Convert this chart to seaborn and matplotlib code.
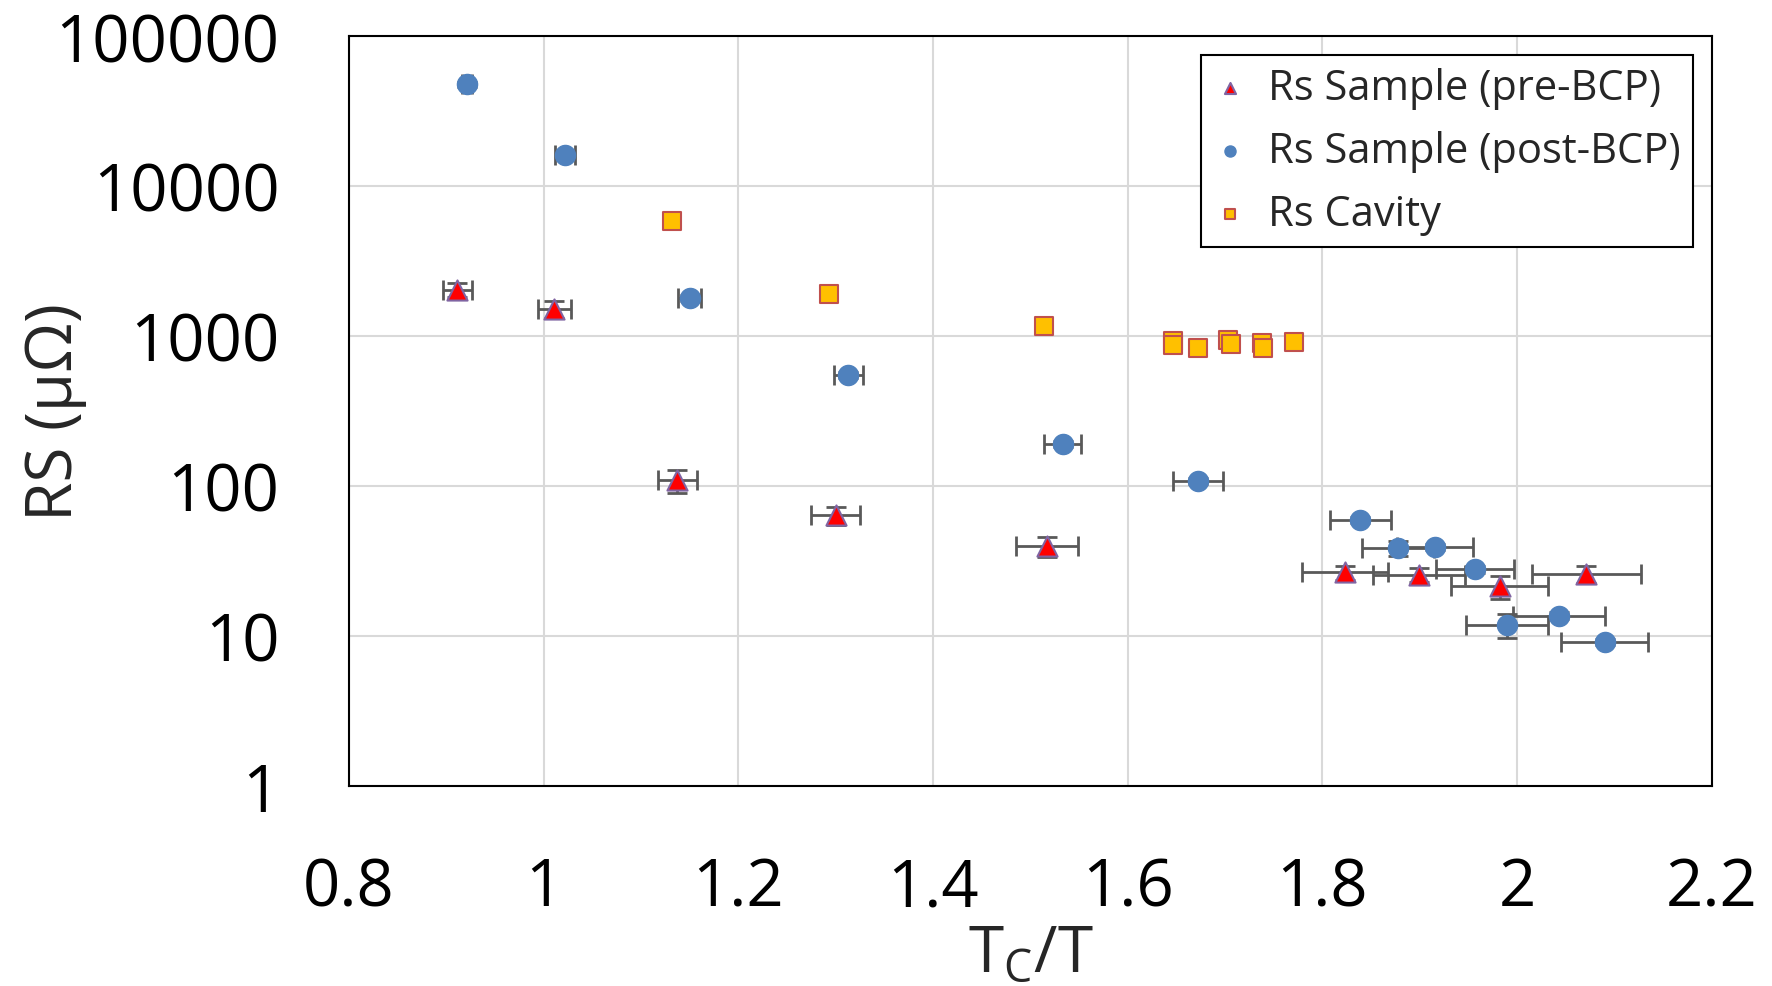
import matplotlib
matplotlib.use("Agg")
import matplotlib.pyplot as plt
import numpy as np
import pandas as pd
import seaborn as sns

# Rs sample before BCP
pre_x = [0.911, 1.011, 1.137, 1.300, 1.517, 1.823, 1.899, 1.982, 2.071]
pre_y = [2030, 1510, 109, 63.5, 39.5, 26.5, 25.5, 21.3, 25.8]
pre_xerr = [0.015, 0.017, 0.020, 0.025, 0.032, 0.044, 0.047, 0.050, 0.056]
pre_yerr = [220, 190, 19, 9, 6, 2.8, 2.7, 3.6, 3.2]

# Rs sample after BCP
post_x = [0.921, 1.022, 1.150, 1.313, 1.533, 1.672, 1.839, 1.878, 1.916, 1.957, 1.990, 2.043, 2.090]
post_y = [47600, 16000, 1800, 547, 190, 107, 59.3, 38.4, 39.2, 27.8, 11.8, 13.6, 9.1]
post_xerr = [0.005, 0.010, 0.012, 0.015, 0.019, 0.026, 0.031, 0.037, 0.039, 0.040, 0.042, 0.047, 0.045]
post_yerr = [2000, 700, 80, 25, 9, 5, 3, 4.6, 2, 1.5, 2.2, 0.7, 0.4]

# Rs cavity
cav_x = [1.132, 1.293, 1.514, 1.646, 1.647, 1.672, 1.703, 1.706, 1.738, 1.739, 1.771]
cav_y = [5800, 1910, 1170, 930, 870, 830, 940, 880, 900, 830, 910]

y_ticks = [1, 10, 100, 1000, 10000, 100000]
x_ticks = [0.8, 1.0, 1.2, 1.4, 1.6, 1.8, 2.0, 2.2]
x_labels = ["0.8", "1", "1.2", "1.4", "1.6", "1.8", "2", "2.2"]

sns.set_theme(style="whitegrid")
plt.rcParams['font.family'] = ['Open Sans', 'DejaVu Sans']

fig = plt.figure(figsize=(17.72, 9.87), dpi=100)
ax = fig.add_axes([0.197, 0.203, 0.769, 0.7595])

err_kw = dict(fmt='none', ecolor='#595959', elinewidth=2, capsize=7, capthick=2, zorder=2)
ax.errorbar(pre_x, pre_y, xerr=pre_xerr, yerr=pre_yerr, **err_kw)
ax.errorbar(post_x, post_y, xerr=post_xerr, yerr=post_yerr, **err_kw)

pre_df = pd.DataFrame({"x": pre_x, "y": pre_y})
post_df = pd.DataFrame({"x": post_x, "y": post_y})
cav_df = pd.DataFrame({"x": cav_x, "y": cav_y})

sns.scatterplot(data=pre_df, x="x", y="y", ax=ax, marker="^", s=210, color="#FF0000",
                edgecolor="#8064A2", linewidth=1.5, label="Rs Sample (pre-BCP)", zorder=3)
sns.scatterplot(data=post_df, x="x", y="y", ax=ax, marker="o", s=210, color="#4F81BD",
                edgecolor="#4F81BD", linewidth=1, label="Rs Sample (post-BCP)", zorder=3)
sns.scatterplot(data=cav_df, x="x", y="y", ax=ax, marker="s", s=170, color="#FFC000",
                edgecolor="#C0504D", linewidth=1.5, label="Rs Cavity", zorder=3)

ax.set_yscale("log")
ax.set_xlim(0.8, 2.2)
ax.set_ylim(1, 100000)
ax.set_xticks(x_ticks)
ax.set_xticklabels(x_labels)
ax.set_yticks(y_ticks)
ax.set_yticklabels([str(t) for t in y_ticks])
ax.minorticks_off()
ax.tick_params(axis="both", labelsize=47, length=0, pad=50, colors="black")

ax.grid(True, color="#D9D9D9", linewidth=1.5)
for s in ax.spines.values():
    s.set_color("black")
    s.set_linewidth(1.5)

ax.set_xlabel(r"T$_\mathregular{C}$/T", fontsize=46, labelpad=0)
ax.set_ylabel("RS (μΩ)", fontsize=46)
ax.yaxis.set_label_coords(-0.192, 0.5)

leg = ax.legend(loc="upper right", fontsize=30, frameon=True, fancybox=False,
                markerscale=0.55, handletextpad=0.5, borderpad=0.3, labelspacing=0.5,
                handlelength=0.8, borderaxespad=0.45)
leg.get_frame().set_edgecolor("black")
leg.get_frame().set_linewidth(1.5)
leg.get_frame().set_alpha(1)

plt.savefig("out.png", dpi=100)
